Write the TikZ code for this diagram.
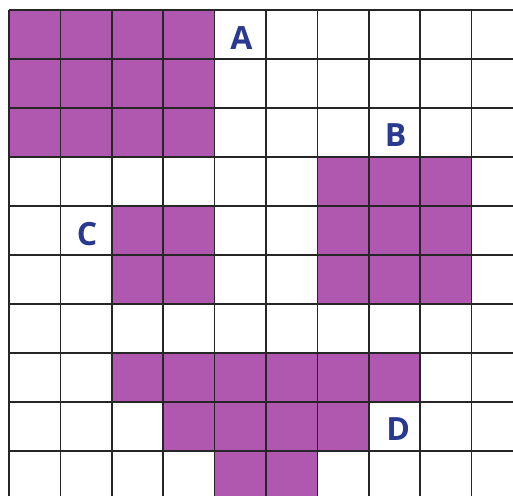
\documentclass[tikz,border=0pt]{standalone}
\usepackage{fontspec}
\setmainfont{Open Sans}
\definecolor{cellpurple}{HTML}{B057B0}
\definecolor{labelblue}{HTML}{2A3990}
\tikzset{
  cell/.style={fill=cellpurple},
  gridline/.style={draw=black!85, line width=1.6pt},
  letter/.style={text=labelblue, font=\bfseries\fontsize{32}{32}\selectfont, inner sep=0pt}
}
\begin{document}
\begin{tikzpicture}[x=1pt,y=-1pt]
\useasboundingbox (0,0) rectangle (513,495);
\clip (0,0) rectangle (513,495);
\fill[white] (0,0) rectangle (513,495);
\begin{scope}[shift={(9pt,-10pt)}, x=51.4pt, y=-49pt]
  % shape A
  \fill[cell] (0,0) rectangle (4,3);
  % shape B
  \fill[cell] (6,3) rectangle (9,6);
  % shape C
  \fill[cell] (2,4) rectangle (4,6);
  % shape D
  \fill[cell] (2,7) rectangle (8,8);
  \fill[cell] (3,8) rectangle (7,9);
  \fill[cell] (4,9) rectangle (6,10);
  % grid
  \foreach \i in {0,...,10} {
    \draw[gridline] (\i,0) -- (\i,10.5);
  }
  \foreach \j in {0,...,10} {
    \draw[gridline] (0,\j) -- (10.5,\j);
  }
  % labels
  \node[letter] (labA) at (4.52,0.58) {A};
  \node[letter] (labB) at (7.52,2.55) {B};
  \node[letter] (labC) at (1.52,4.58) {C};
  \node[letter] (labD) at (7.57,8.55) {D};
\end{scope}
\end{tikzpicture}
\end{document}
